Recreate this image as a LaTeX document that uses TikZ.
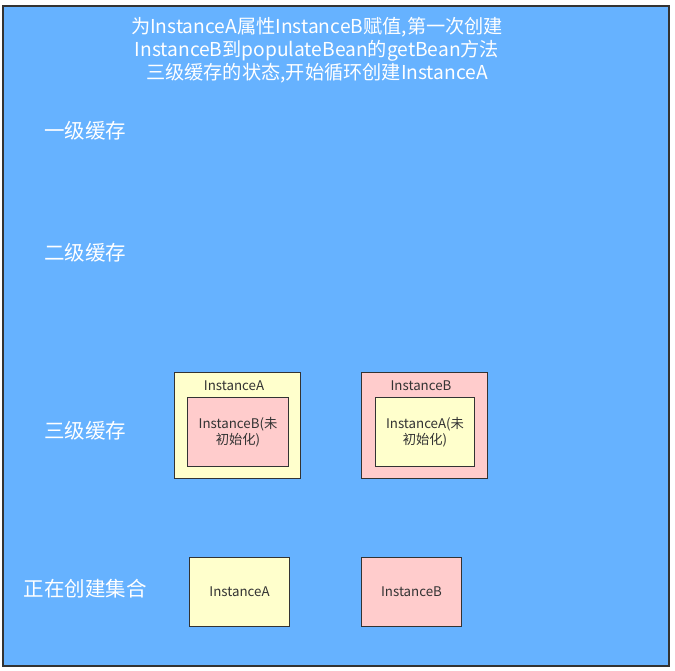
\documentclass[tikz,border=0pt]{standalone}
\usepackage{fontspec}
\setmainfont{Noto Sans CJK SC}
\definecolor{panelblue}{HTML}{66B2FF}
\definecolor{boxyellow}{HTML}{FFFFCC}
\definecolor{boxpink}{HTML}{FFCCCC}
\definecolor{edgegray}{HTML}{333333}
\tikzset{
  inst/.style={draw=edgegray,line width=1.6pt,inner sep=0pt,align=center,
    text=edgegray,font=\fontsize{13.3}{16}\selectfont},
  yellowbox/.style={inst,fill=boxyellow},
  pinkbox/.style={inst,fill=boxpink},
  lvl/.style={text=white,font=\fontsize{20.5}{24}\selectfont},
  boxname/.style={text=edgegray,font=\fontsize{13.3}{16}\selectfont}
}
\begin{document}
\begin{tikzpicture}[x=1pt,y=-1pt]
	\useasboundingbox (0,0) rectangle (675,671);
	\node[draw=edgegray,line width=2pt,fill=panelblue,minimum width=666pt,minimum height=659pt,inner sep=0pt] (panel) at (335.5,336) {};
	\node[text=white,align=center,font=\fontsize{19.2}{23}\selectfont] (title) at (317,50) {为InstanceA属性InstanceB赋值,第一次创建\\InstanceB到populateBean的getBean方法\\三级缓存的状态,开始循环创建InstanceA};
	\node[lvl] (lvlone) at (85,131) {一级缓存};
	\node[lvl] (lvltwo) at (85,253) {二级缓存};
	\node[lvl] (lvlthree) at (85,431) {三级缓存};
	\node[lvl] (creating) at (85,589) {正在创建集合};
	% third-level cache entries
	\node[yellowbox,minimum width=126pt,minimum height=106pt] (cacheA) at (237.5,425.5) {};
	\node[boxname] (cacheAname) at (234,386) {InstanceA};
	\node[pinkbox,minimum width=101pt,minimum height=69pt] (cacheAin) at (238,432) {InstanceB(未\\初始化)};
	\node[pinkbox,minimum width=126pt,minimum height=106pt] (cacheB) at (424.5,425.5) {};
	\node[boxname] (cacheBname) at (421,386) {InstanceB};
	\node[yellowbox,minimum width=99pt,minimum height=69pt] (cacheBin) at (425,432) {InstanceA(未\\初始化)};
	% beans in creation
	\node[yellowbox,minimum width=100pt,minimum height=69pt] (curA) at (239.5,592) {InstanceA};
	\node[pinkbox,minimum width=100pt,minimum height=69pt] (curB) at (411.5,592) {InstanceB};
\end{tikzpicture}
\end{document}
